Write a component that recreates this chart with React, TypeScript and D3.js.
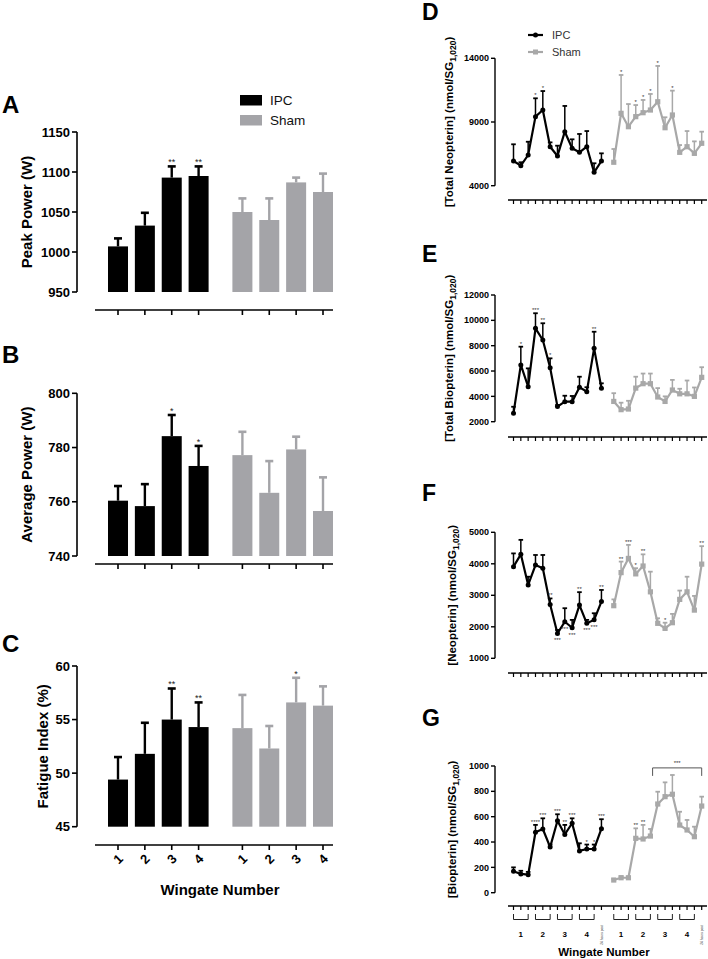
import React from "react";
import * as d3 from "d3";

const FONT = "'Liberation Sans', Arial, Helvetica, sans-serif";
const BLACK = "#000000";
const BAR_GRAY = "#a4a4a8";
const LINE_GRAY = "#a8a8a8";

// ---------- Left panels (bar charts) ----------
const GROUPS = ["IPC", "Sham"];
const WINGATES = ["1", "2", "3", "4"];

const peakIPC = [1007, 1033, 1093, 1095];
const peakIPCsem = [10, 16, 14, 12];
const peakSham = [1050, 1040, 1087, 1075];
const peakShamSem = [17, 27, 6, 23];
const peakIPCstars = ["", "", "**", "**"];
const peakShamStars = ["", "", "", ""];
const peakTicks = [950, 1000, 1050, 1100, 1150];

const avgIPC = [760.4, 758.4, 784.2, 773.2];
const avgIPCsem = [5.4, 8.1, 7.8, 7.4];
const avgSham = [777.2, 763.3, 779.3, 756.6];
const avgShamSem = [8.6, 11.7, 4.7, 12.4];
const avgIPCstars = ["", "", "*", "*"];
const avgShamStars = ["", "", "", ""];
const avgTicks = [740, 760, 780, 800];

const fatIPC = [49.4, 51.8, 55.0, 54.3];
const fatIPCsem = [2.1, 2.9, 2.9, 2.3];
const fatSham = [54.2, 52.3, 56.6, 56.3];
const fatShamSem = [3.1, 2.1, 2.3, 1.8];
const fatIPCstars = ["", "", "**", "**"];
const fatShamStars = ["", "", "*", ""];
const fatTicks = [45, 50, 55, 60];

// ---------- Right panels (time courses) ----------
const WINGATE_BRACKETS = ["1", "2", "3", "4"];
const POST_LABEL = "24 hours post";

const totNeoIPC = [5940, 5570, 6410, 9420, 9940, 7060, 6330, 8240, 6940, 6620, 7060, 5050, 5940];
const totNeoIPCsem = [1310, 270, 1040, 1440, 1490, 340, 810, 2020, 700, 1440, 1230, 710, 600];
const totNeoSham = [5840, 9680, 8630, 9420, 9730, 9940, 10590, 8550, 9550, 6620, 7060, 6540, 7330];
const totNeoShamSem = [1040, 3010, 1780, 910, 1000, 1260, 2810, 820, 1910, 570, 1230, 940, 910];
const totNeoIPCstars = ["", "", "", "*", "*", "", "", "", "", "", "", "", ""];
const totNeoShamStars = ["", "*", "", "*", "*", "*", "*", "", "*", "", "", "", ""];
const totNeoTicks = [4000, 9000, 14000];

const totBioIPC = [2660, 6480, 4760, 9370, 8450, 6260, 3190, 3580, 3580, 4720, 4370, 7790, 4640];
const totBioIPCsem = [520, 1440, 1450, 1190, 1320, 740, 130, 470, 450, 830, 350, 1310, 390];
const totBioSham = [3600, 2950, 3000, 4650, 5000, 5000, 3950, 3600, 4500, 4200, 4200, 4000, 5500];
const totBioShamSem = [650, 550, 650, 900, 800, 800, 700, 400, 800, 400, 1050, 700, 800];
const totBioIPCstars = ["", "*", "", "***", "**", "*", "", "", "", "", "", "**", ""];
const totBioShamStars = ["", "", "", "", "", "", "", "", "", "", "", "", ""];
const totBioTicks = [2000, 4000, 6000, 8000, 10000, 12000];

const neoIPC = [3910, 4300, 3330, 3960, 3860, 2710, 1790, 2160, 1970, 2690, 2110, 2220, 2800];
const neoIPCsem = [420, 460, 260, 320, 420, 190, 110, 430, 250, 410, 110, 210, 370];
const neoSham = [2670, 3720, 4170, 3680, 3930, 3110, 2110, 1950, 2130, 2870, 3110, 2530, 3990];
const neoShamSem = [200, 350, 430, 180, 370, 640, 160, 180, 280, 280, 480, 450, 570];
const neoIPCstars = ["", "", "", "", "", "**", "", "", "", "**", "", "", "**"];
const neoIPCstarsBelow = ["", "", "", "", "", "", "***", "***", "***", "", "***", "***", ""];
const neoShamStars = ["", "**", "***", "*", "**", "", "", "*", "", "", "", "", "**"];
const neoTicks = [1000, 2000, 3000, 4000, 5000];

const bioIPC = [170, 148, 142, 477, 503, 360, 568, 460, 548, 330, 345, 345, 505];
const bioIPCsem = [30, 25, 22, 58, 84, 20, 51, 75, 39, 60, 35, 35, 75];
const bioSham = [100, 118, 118, 429, 424, 447, 700, 758, 777, 534, 495, 442, 684];
const bioShamSem = [8, 12, 7, 79, 111, 56, 97, 113, 152, 105, 79, 79, 74];
const bioIPCstars = ["", "", "", "****", "***", "", "***", "**", "***", "", "*", "*", "***"];
const bioShamStars = ["", "", "", "**", "**", "", "", "", "", "", "", "", ""];
const bioTicks = [0, 200, 400, 600, 800, 1000];
const bioBracket = { from: 5.3, to: 12, level: 985, label: "***" };

// ---------- Components ----------
type BarCfg = {
  letter: string;
  letterY: number;
  label: string;
  labelX: number;
  domain: [number, number];
  range: [number, number];
  ticks: number[];
  axisY: number;
  ipc: number[];
  ipcSem: number[];
  sham: number[];
  shamSem: number[];
  ipcStars: string[];
  shamStars: string[];
  showLabels?: boolean;
};

const barX = d3.scaleLinear().domain([0, 7.63]).range([118, 323]);
const SHAM_OFFSET = 4.63;

function BarPanel({ c }: { c: BarCfg }) {
  const y = d3.scaleLinear().domain(c.domain).range(c.range);
  const base = c.domain[0];
  const bw = 20;
  const series = [
    { vals: c.ipc, sem: c.ipcSem, stars: c.ipcStars, off: 0, color: BLACK },
    { vals: c.sham, sem: c.shamSem, stars: c.shamStars, off: SHAM_OFFSET, color: BAR_GRAY },
  ];
  const yMid = (c.range[0] + c.range[1]) / 2;
  return (
    <g>
      <text x={2} y={c.letterY} fontSize={24} fontWeight="bold" fontFamily={FONT}>
        {c.letter}
      </text>
      <line x1={77} x2={77} y1={y(c.domain[0])} y2={y(c.domain[1])} stroke={BLACK} strokeWidth={1.6} />
      {c.ticks.map((t) => (
        <g key={t}>
          <line x1={72} x2={77} y1={y(t)} y2={y(t)} stroke={BLACK} strokeWidth={1.6} />
          <text x={70} y={y(t)} dy="0.35em" textAnchor="end" fontSize={13} fontWeight="bold" fontFamily={FONT}>
            {t}
          </text>
        </g>
      ))}
      <text
        transform={`translate(${c.labelX},${yMid}) rotate(-90)`}
        textAnchor="middle"
        dy="0.35em"
        fontSize={15}
        fontWeight="bold"
        fontFamily={FONT}
      >
        {c.label}
      </text>
      <line x1={95} x2={333} y1={c.axisY} y2={c.axisY} stroke={BLACK} strokeWidth={1.6} />
      {series.map((s, si) =>
        s.vals.map((v, i) => {
          const cx = barX(i + s.off);
          return (
            <g key={`${si}-${i}`}>
              <line x1={cx} x2={cx} y1={c.axisY} y2={c.axisY + 5} stroke={BLACK} strokeWidth={1.6} />
              {c.showLabels && (
                <text
                  transform={`translate(${cx},${c.axisY + 14}) rotate(-45)`}
                  textAnchor="middle"
                  dy="0.35em"
                  fontSize={13}
                  fontWeight="bold"
                  fontFamily={FONT}
                >
                  {WINGATES[i]}
                </text>
              )}
              <line x1={cx} x2={cx} y1={y(v)} y2={y(v + s.sem[i])} stroke={s.color} strokeWidth={2.4} />
              <line x1={cx - 4} x2={cx + 4} y1={y(v + s.sem[i])} y2={y(v + s.sem[i])} stroke={s.color} strokeWidth={2.6} />
              <rect x={cx - bw / 2} y={y(v)} width={bw} height={y(base) - y(v)} fill={s.color} />
              {s.stars[i] && (
                <text x={cx} y={y(v + s.sem[i]) - 1} textAnchor="middle" fontSize={9} fontFamily={FONT} fill="#222">
                  {s.stars[i]}
                </text>
              )}
            </g>
          );
        })
      )}
    </g>
  );
}

type LineCfg = {
  letter: string;
  letterY: number;
  labelMain: string;
  labelX: number;
  domain: [number, number];
  range: [number, number];
  ticks: number[];
  axisY: number;
  ipc: number[];
  ipcSem: number[];
  sham: number[];
  shamSem: number[];
  ipcStars: string[];
  shamStars: string[];
  ipcStarsBelow?: string[];
};

const lineX = d3.scaleLinear().domain([0, 25.68]).range([513.5, 701.7]);
const SHAM_LINE_OFFSET = 13.68;

function LinePanel({ c, children }: { c: LineCfg; children?: React.ReactNode }) {
  const y = d3.scaleLinear().domain(c.domain).range(c.range);
  const yMid = (c.range[0] + c.range[1]) / 2;
  const series = [
    { vals: c.ipc, sem: c.ipcSem, stars: c.ipcStars, below: c.ipcStarsBelow, off: 0, color: BLACK, marker: "circle" },
    { vals: c.sham, sem: c.shamSem, stars: c.shamStars, below: undefined, off: SHAM_LINE_OFFSET, color: LINE_GRAY, marker: "square" },
  ];
  return (
    <g>
      <text x={422} y={c.letterY} fontSize={23} fontWeight="bold" fontFamily={FONT}>
        {c.letter}
      </text>
      <line x1={495} x2={495} y1={y(c.domain[0])} y2={y(c.domain[1])} stroke={BLACK} strokeWidth={1.4} />
      {c.ticks.map((t) => (
        <g key={t}>
          <line x1={491} x2={495} y1={y(t)} y2={y(t)} stroke={BLACK} strokeWidth={1.4} />
          <text x={489} y={y(t)} dy="0.35em" textAnchor="end" fontSize={9} fontWeight="bold" fontFamily={FONT}>
            {t}
          </text>
        </g>
      ))}
      <text
        transform={`translate(${c.labelX},${yMid}) rotate(-90)`}
        textAnchor="middle"
        dy="0.35em"
        fontSize={11.5}
        fontWeight="bold"
        fontFamily={FONT}
      >
        {c.labelMain}
        <tspan fontSize={8.5} dy={3}>
          1,020
        </tspan>
        <tspan dy={-3}>)</tspan>
      </text>
      <line x1={508} x2={707} y1={c.axisY} y2={c.axisY} stroke={BLACK} strokeWidth={1.4} />
      {series.map((s, si) =>
        s.vals.map((_, i) => (
          <line
            key={`t${si}-${i}`}
            x1={lineX(i + s.off)}
            x2={lineX(i + s.off)}
            y1={c.axisY}
            y2={c.axisY + 4}
            stroke={BLACK}
            strokeWidth={1.2}
          />
        ))
      )}
      {series.map((s, si) => {
        const path = d3
          .line<number>()
          .x((_, i) => lineX(i + s.off))
          .y((d) => y(d))(s.vals);
        return (
          <g key={`s${si}`}>
            {s.vals.map((v, i) => {
              const cx = lineX(i + s.off);
              const top = y(v + s.sem[i]);
              return (
                <g key={i}>
                  <line x1={cx} x2={cx} y1={y(v)} y2={top} stroke={s.color} strokeWidth={1.5} />
                  <line x1={cx - 2.3} x2={cx + 2.3} y1={top} y2={top} stroke={s.color} strokeWidth={1.8} />
                </g>
              );
            })}
            <path d={path || ""} fill="none" stroke={s.color} strokeWidth={2.2} strokeLinejoin="round" />
            {s.vals.map((v, i) => {
              const cx = lineX(i + s.off);
              return s.marker === "circle" ? (
                <circle key={`m${i}`} cx={cx} cy={y(v)} r={2.5} fill={s.color} />
              ) : (
                <rect key={`m${i}`} x={cx - 2.6} y={y(v) - 2.6} width={5.2} height={5.2} fill={s.color} />
              );
            })}
            {s.vals.map((v, i) =>
              s.stars[i] ? (
                <text
                  key={`st${i}`}
                  x={lineX(i + s.off)}
                  y={y(v + s.sem[i]) - 1}
                  textAnchor="middle"
                  fontSize={6}
                  fontFamily={FONT}
                  fill="#333"
                >
                  {s.stars[i]}
                </text>
              ) : null
            )}
            {s.below &&
              s.vals.map((v, i) =>
                s.below && s.below[i] ? (
                  <text
                    key={`sb${i}`}
                    x={lineX(i + s.off)}
                    y={y(v) + 9}
                    textAnchor="middle"
                    fontSize={6}
                    fontFamily={FONT}
                    fill="#333"
                  >
                    {s.below[i]}
                  </text>
                ) : null
              )}
          </g>
        );
      })}
      {children}
    </g>
  );
}

export default function App() {
  const panelA: BarCfg = {
    letter: "A", letterY: 113, label: "Peak Power (W)", labelX: 27,
    domain: [950, 1150], range: [292, 132], ticks: peakTicks, axisY: 310,
    ipc: peakIPC, ipcSem: peakIPCsem, sham: peakSham, shamSem: peakShamSem,
    ipcStars: peakIPCstars, shamStars: peakShamStars,
  };
  const panelB: BarCfg = {
    letter: "B", letterY: 363, label: "Average Power (W)", labelX: 27,
    domain: [740, 800], range: [556, 393.3], ticks: avgTicks, axisY: 564,
    ipc: avgIPC, ipcSem: avgIPCsem, sham: avgSham, shamSem: avgShamSem,
    ipcStars: avgIPCstars, shamStars: avgShamStars,
  };
  const panelC: BarCfg = {
    letter: "C", letterY: 652, label: "Fatigue Index (%)", labelX: 43,
    domain: [45, 60], range: [826.7, 666], ticks: fatTicks, axisY: 845,
    ipc: fatIPC, ipcSem: fatIPCsem, sham: fatSham, shamSem: fatShamSem,
    ipcStars: fatIPCstars, shamStars: fatShamStars, showLabels: true,
  };
  const panelD: LineCfg = {
    letter: "D", letterY: 20, labelMain: "[Total Neopterin] (nmol/SG", labelX: 449,
    domain: [4000, 14000], range: [185.7, 58.3], ticks: totNeoTicks, axisY: 200,
    ipc: totNeoIPC, ipcSem: totNeoIPCsem, sham: totNeoSham, shamSem: totNeoShamSem,
    ipcStars: totNeoIPCstars, shamStars: totNeoShamStars,
  };
  const panelE: LineCfg = {
    letter: "E", letterY: 262, labelMain: "[Total Biopterin] (nmol/SG", labelX: 449,
    domain: [2000, 12000], range: [421.7, 295], ticks: totBioTicks, axisY: 437,
    ipc: totBioIPC, ipcSem: totBioIPCsem, sham: totBioSham, shamSem: totBioShamSem,
    ipcStars: totBioIPCstars, shamStars: totBioShamStars,
  };
  const panelF: LineCfg = {
    letter: "F", letterY: 501, labelMain: "[Neopterin] (nmol/SG", labelX: 452,
    domain: [1000, 5000], range: [658.3, 532.3], ticks: neoTicks, axisY: 673,
    ipc: neoIPC, ipcSem: neoIPCsem, sham: neoSham, shamSem: neoShamSem,
    ipcStars: neoIPCstars, shamStars: neoShamStars, ipcStarsBelow: neoIPCstarsBelow,
  };
  const panelG: LineCfg = {
    letter: "G", letterY: 726, labelMain: "[Biopterin] (nmol/SG", labelX: 452,
    domain: [0, 1000], range: [892.7, 766], ticks: bioTicks, axisY: 906,
    ipc: bioIPC, ipcSem: bioIPCsem, sham: bioSham, shamSem: bioShamSem,
    ipcStars: bioIPCstars, shamStars: bioShamStars,
  };
  const gY = d3.scaleLinear().domain(panelG.domain).range(panelG.range);
  const bracketY = gY(bioBracket.level);

  return (
    <svg
      width={708}
      height={959}
      style={{ position: "absolute", left: 0, top: 0, background: "#fff" }}
      fontFamily={FONT}
    >
      <rect width={708} height={959} fill="#fff" />
      <BarPanel c={panelA} />
      <BarPanel c={panelB} />
      <BarPanel c={panelC} />
      <text x={220} y={895} textAnchor="middle" fontSize={15} fontWeight="bold" fontFamily={FONT}>
        Wingate Number
      </text>
      {GROUPS.map((g, i) => (
        <g key={g}>
          <rect x={240} y={95 + i * 20} width={22} height={10.5} fill={i === 0 ? BLACK : BAR_GRAY} />
          <text x={270} y={105 + i * 20} fontSize={13.5} fontFamily={FONT} fill="#111">
            {g}
          </text>
        </g>
      ))}

      <LinePanel c={panelD} />
      <LinePanel c={panelE} />
      <LinePanel c={panelF} />
      <LinePanel c={panelG}>
        <path
          d={`M${lineX(bioBracket.from + SHAM_LINE_OFFSET)},${bracketY + 8} V${bracketY} H${lineX(
            bioBracket.to + SHAM_LINE_OFFSET
          )} V${bracketY + 8}`}
          fill="none"
          stroke="#555"
          strokeWidth={1}
        />
        <text
          x={(lineX(bioBracket.from + SHAM_LINE_OFFSET) + lineX(bioBracket.to + SHAM_LINE_OFFSET)) / 2}
          y={bracketY - 3}
          textAnchor="middle"
          fontSize={6}
          fill="#333"
        >
          {bioBracket.label}
        </text>
        {[0, SHAM_LINE_OFFSET].map((off) => (
          <g key={off}>
            {WINGATE_BRACKETS.map((w, k) => {
              const x1 = lineX(off + 3 * k);
              const x2 = lineX(off + 3 * k + 2);
              return (
                <g key={w}>
                  <path d={`M${x1},914 V919.5 H${x2} V914`} fill="none" stroke="#222" strokeWidth={1} />
                  <text x={(x1 + x2) / 2} y={937} textAnchor="middle" fontSize={8} fontWeight="bold" fontFamily={FONT}>
                    {w}
                  </text>
                </g>
              );
            })}
            <text
              transform={`translate(${lineX(off + 12)},${935}) rotate(-90)`}
              textAnchor="middle"
              dy="0.35em"
              fontSize={3.2}
              fontFamily={FONT}
              fill="#333"
            >
              {POST_LABEL}
            </text>
          </g>
        ))}
        <text x={604} y={956} textAnchor="middle" fontSize={11.5} fontWeight="bold" fontFamily={FONT}>
          Wingate Number
        </text>
      </LinePanel>

      {GROUPS.map((g, i) => {
        const ly = 35 + i * 17;
        const col = i === 0 ? BLACK : LINE_GRAY;
        return (
          <g key={`dl${g}`}>
            <line x1={528} x2={543} y1={ly} y2={ly} stroke={col} strokeWidth={2.2} />
            {i === 0 ? (
              <circle cx={535.5} cy={ly} r={2.5} fill={col} />
            ) : (
              <rect x={533} y={ly - 2.5} width={5} height={5} fill={col} />
            )}
            <text x={552} y={ly + 4} fontSize={11} fontFamily={FONT} fill="#333">
              {g}
            </text>
          </g>
        );
      })}
    </svg>
  );
}
